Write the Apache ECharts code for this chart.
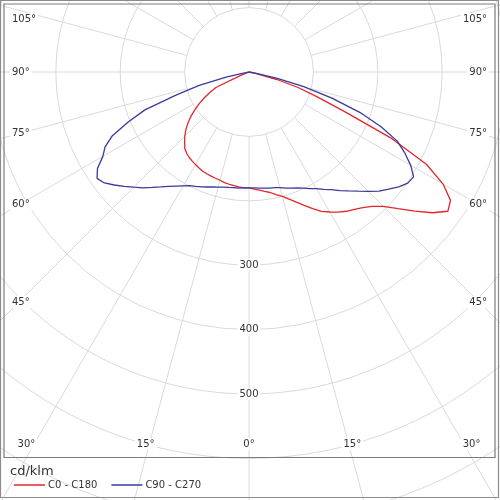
<!DOCTYPE html>
<html><head><meta charset="utf-8">
<script src="https://cdn.jsdelivr.net/npm/echarts@6/dist/echarts.min.js"></script>
<style>html,body{margin:0;padding:0;background:#fff}#c{width:500px;height:500px}</style>
</head><body><div id="c"></div>
<script>
// ---- data ----
const seriesNames = ['C0 - C180', 'C90 - C270'];
const unitLabel = 'cd/klm';
// gamma angles (degrees from nadir; negative = C180/C270 half, positive = C0/C90 half)
const gammaAngles = [-90,-87.5,-85,-82.5,-80,-77.5,-75,-72.5,-70,-67.5,-65,-62.5,-60,-57.5,-55,-52.5,-50,-47.5,-45,-42.5,-40,-37.5,-35,-32.5,-30,-27.5,-25,-22.5,-20,-17.5,-15,-12.5,-10,-7.5,-5,-2.5,
  0,2.5,5,7.5,10,12.5,15,17.5,20,22.5,25,27.5,30,32.5,35,37.5,40,42.5,45,47.5,50,52.5,55,57.5,60,62.5,65,67.5,70,72.5,75,77.5,80,82.5,85,87.5,90];
const redValues = [0,0,0,0,0,0,0,0,0,12,56,68,80,92,103,114,124,133,141,148,155,159,162,164,166,168,170,171,172,173,174,176,177,178,179,180,
  180,182,184,187,190,195,200,207,215,224,234,244,251,258,264,269,275,283,295,314,336,359,377,371,348,311,245,160,112,80,45,10,0,0,0,0,0];
const blueValues = [0,0,0,0,5,35,80,118,172,203,234,252,262,279,288,283,273,263,253,244,234,225,217,210,204,199,196,193,190,187,185,183,182,181,181,180,
  180,180,181,182,183,184,186,189,192,195,199,204,209,216,223,232,241,251,262,274,283,293,301,303,290,273,254,222,183,135,88,45,10,0,0,0,0];
const radiusTickLabels = [300, 400, 500];
const angleTickLabels = [105, 90, 75, 60, 45, 30, 15, 0];

// ---- layout ----
const CX = 249, CY = 72, PX_PER_UNIT = 0.644, R_MIN_GRID = 100, R_MAX = 800;
const FRAME = {x0: 4, y0: 4, x1: 495, y1: 457.5};
const FONT = 'DejaVu Sans';
const gridColor = '#dadada';
const textColor = '#333';

function toAngle(g) { return g < 0 ? g + 360 : g; }
function pairs(values) { return gammaAngles.map((g, i) => [values[i], toAngle(g)]); }

// angle labels: placed where each ray reaches the label band inside the frame
function angleLabelEls() {
  const els = [];
  const leftX = 10, rightX = 489, bottomY = 444, sideColX = 19;
  angleTickLabels.forEach(a => {
    [-1, 1].forEach(side => {
      if (a === 0 && side === 1) return;
      const rad = a * Math.PI / 180;
      let x, y, align;
      if (a >= 45) {
        const dx = CX - sideColX;
        y = CY + dx * Math.cos(rad) / Math.sin(rad);
        y = Math.max(19, Math.min(bottomY, y));
        x = side < 0 ? leftX : rightX;
        align = side < 0 ? 'left' : 'right';
      } else {
        y = bottomY;
        const off = (FRAME.y1 - CY) * Math.tan(rad);
        x = CX + side * off;
        x = Math.max(22, Math.min(478, x));
        align = 'center';
      }
      els.push({
        type: 'text', z: 30,
        style: {
          text: a + '°', x: x, y: y,
          textAlign: align, align: align,
          textVerticalAlign: 'middle', verticalAlign: 'middle',
          fontSize: 10, fontFamily: FONT, fill: textColor,
          backgroundColor: '#fff', padding: [1, 2]
        }
      });
    });
  });
  return els;
}

const chart = echarts.init(document.getElementById('c'), null, {renderer: 'canvas'});
const option = {
  animation: false,
  backgroundColor: '#fff',
  polar: [
    {center: [CX, CY], radius: [R_MIN_GRID * PX_PER_UNIT, R_MAX * PX_PER_UNIT]},
    {center: [CX, CY], radius: R_MAX * PX_PER_UNIT}
  ],
  angleAxis: [
    {polarIndex: 0, type: 'value', min: 0, max: 360, interval: 15, startAngle: 270, clockwise: false, z: 0,
      axisLine: {show: false}, axisTick: {show: false}, axisLabel: {show: false},
      splitLine: {show: true, lineStyle: {color: gridColor, width: 1}}},
    {polarIndex: 1, type: 'value', min: 0, max: 360, startAngle: 270, clockwise: false, show: false,
      axisLine: {show: false}, axisTick: {show: false}, axisLabel: {show: false}, splitLine: {show: false}}
  ],
  radiusAxis: [
    {polarIndex: 0, type: 'value', min: R_MIN_GRID, max: R_MAX, interval: 100, z: 1,
      axisLine: {show: false}, axisTick: {show: false},
      splitLine: {show: true, lineStyle: {color: gridColor, width: 1}},
      axisLabel: {show: true, margin: 0, align: 'center', verticalAlign: 'middle',
        formatter: v => radiusTickLabels.includes(v) ? '{b|' + v + '}' : '',
        rich: {b: {backgroundColor: '#fff', padding: [1, 2], fontSize: 10, fontFamily: FONT, color: textColor}}}},
    {polarIndex: 1, type: 'value', min: 0, max: R_MAX, show: false,
      axisLine: {show: false}, axisTick: {show: false}, axisLabel: {show: false}, splitLine: {show: false}}
  ],
  legend: {
    left: 9, top: 475, itemWidth: 31, itemHeight: 1.5, icon: 'rect', itemGap: 14, z: 40,
    selectedMode: false, data: seriesNames,
    textStyle: {fontSize: 10, fontFamily: FONT, color: textColor, padding: [0, 0, 0, -2]}
  },
  graphic: {
    z: 20,
    elements: [
      {type: 'rect', shape: {x: 0, y: 0, width: 500, height: FRAME.y0}, style: {fill: '#fff'}},
      {type: 'rect', shape: {x: 0, y: 0, width: FRAME.x0, height: 500}, style: {fill: '#fff'}},
      {type: 'rect', shape: {x: FRAME.x1, y: 0, width: 500 - FRAME.x1, height: 500}, style: {fill: '#fff'}},
      {type: 'rect', shape: {x: 0, y: FRAME.y1, width: 500, height: 500 - FRAME.y1}, style: {fill: '#fff'}},
      {type: 'rect', z: 25, shape: {x: FRAME.x0, y: FRAME.y0, width: FRAME.x1 - FRAME.x0, height: FRAME.y1 - FRAME.y0},
        style: {fill: 'none', stroke: '#7c7c7c', lineWidth: 1.2}},
      {type: 'rect', z: 25, shape: {x: 0.5, y: 0.5, width: 498, height: 497},
        style: {fill: 'none', stroke: '#8c8c8c', lineWidth: 1.2}},
      {type: 'text', z: 30, style: {text: unitLabel, x: 10, y: 472, textVerticalAlign: 'middle', verticalAlign: 'middle',
        fontSize: 13, fontFamily: FONT, fill: textColor}}
    ].concat(angleLabelEls())
  },
  series: [
    {name: seriesNames[0], type: 'line', coordinateSystem: 'polar', polarIndex: 1, data: pairs(redValues),
      symbol: 'none', showSymbol: false, silent: true, z: 2,
      lineStyle: {color: '#e3262b', width: 1.3}, itemStyle: {color: '#e3262b'}},
    {name: seriesNames[1], type: 'line', coordinateSystem: 'polar', polarIndex: 1, data: pairs(blueValues),
      symbol: 'none', showSymbol: false, silent: true, z: 2,
      lineStyle: {color: '#3a3a9c', width: 1.3}, itemStyle: {color: '#3a3a9c'}}
  ]
};
chart.setOption(option);
</script>
</body></html>
